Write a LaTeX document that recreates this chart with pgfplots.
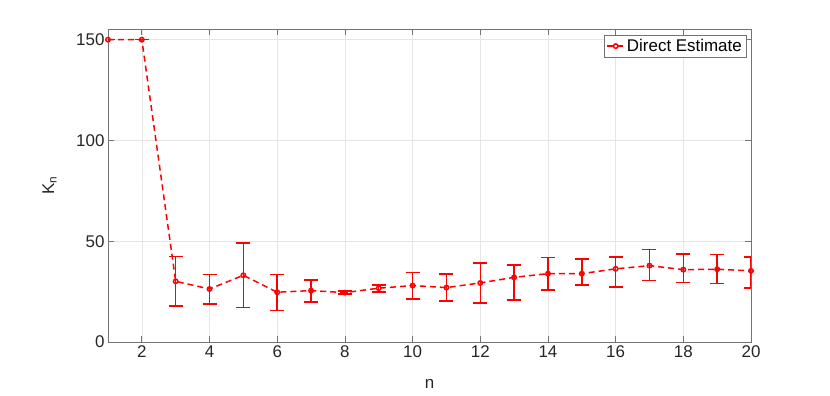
\documentclass[border=0pt]{standalone}
\usepackage{fontspec}
\setmainfont{Liberation Sans}
\usepackage{pgfplots}
\usepackage{pgfplotstable}
\pgfplotsset{compat=1.18}
\definecolor{axgray}{rgb}{0.45,0.45,0.45}
\definecolor{gridgray}{rgb}{0.9,0.9,0.9}

% n, estimate, upper and lower error
\pgfplotstableread{
n   K     ep    em
1   150   0     0
2   150   0     0
3   30.1  12.3  12.2
4   26.3  7.3   7.4
5   33.1  15.9  16.0
6   24.7  8.7   9.1
7   25.5  5.3   5.6
8   24.5  0.7   0.7
9   26.7  1.6   2.0
10  28.0  6.6   6.6
11  27.0  6.8   6.6
12  29.3  9.8   9.9
13  32.1  6.2   11.2
14  33.9  8.0   8.2
15  33.9  7.2   5.6
16  36.3  5.9   9.0
17  37.9  8.0   7.3
18  35.9  7.7   6.4
19  36.1  7.3   7.0
20  35.3  6.9   8.6
}\kdata

\begin{document}
\begin{tikzpicture}
\useasboundingbox (-108bp,-54bp) rectangle (722bp,342bp);
\begin{axis}[
    at={(0,0)}, anchor=south west,
    scale only axis, width=643bp, height=313bp,
    xmin=1, xmax=20, ymin=0, ymax=155.3,
    xtick={2,4,...,20}, ytick={0,50,100,150},
    tick align=inside, major tick length=6bp,
    grid=major, grid style={gridgray, line width=0.6bp},
    axis line style={axgray, line width=0.7bp},
    tick style={axgray, line width=0.7bp},
    ticklabel style={font=\fontsize{17}{20}\selectfont, text=black!85},
    /pgf/number format/assume math mode=true,
    xlabel={n}, ylabel={K\textsubscript{n}},
    label style={font=\fontsize{17}{20}\selectfont, text=black!85},
    xlabel style={at={(axis description cs:0.5,0)}, anchor=center, yshift=-42bp},
    ylabel style={at={(axis description cs:-0.091,0.5)}, anchor=center},
    clip mode=individual,
    legend style={at={(rel axis cs:1,1)}, anchor=north east, xshift=-5bp, yshift=-6bp,
        draw=axgray, font=\fontsize{17}{20}\selectfont, inner sep=2bp,
        cells={anchor=west}},
]
\addplot[red, line width=1.5bp, dash pattern=on 6bp off 4bp,
    mark=o, mark size=2.2bp, mark options={solid, line width=1.5bp, red},
    error bars/.cd, y dir=both, y explicit,
    error bar style={red, line width=1.5bp, solid},
    error mark options={rotate=90, mark size=7bp, line width=1.5bp, red, solid}]
  table[x=n, y=K, y error plus=ep, y error minus=em] {\kdata};
\addlegendentry{Direct Estimate}
\end{axis}
\end{tikzpicture}
\end{document}
